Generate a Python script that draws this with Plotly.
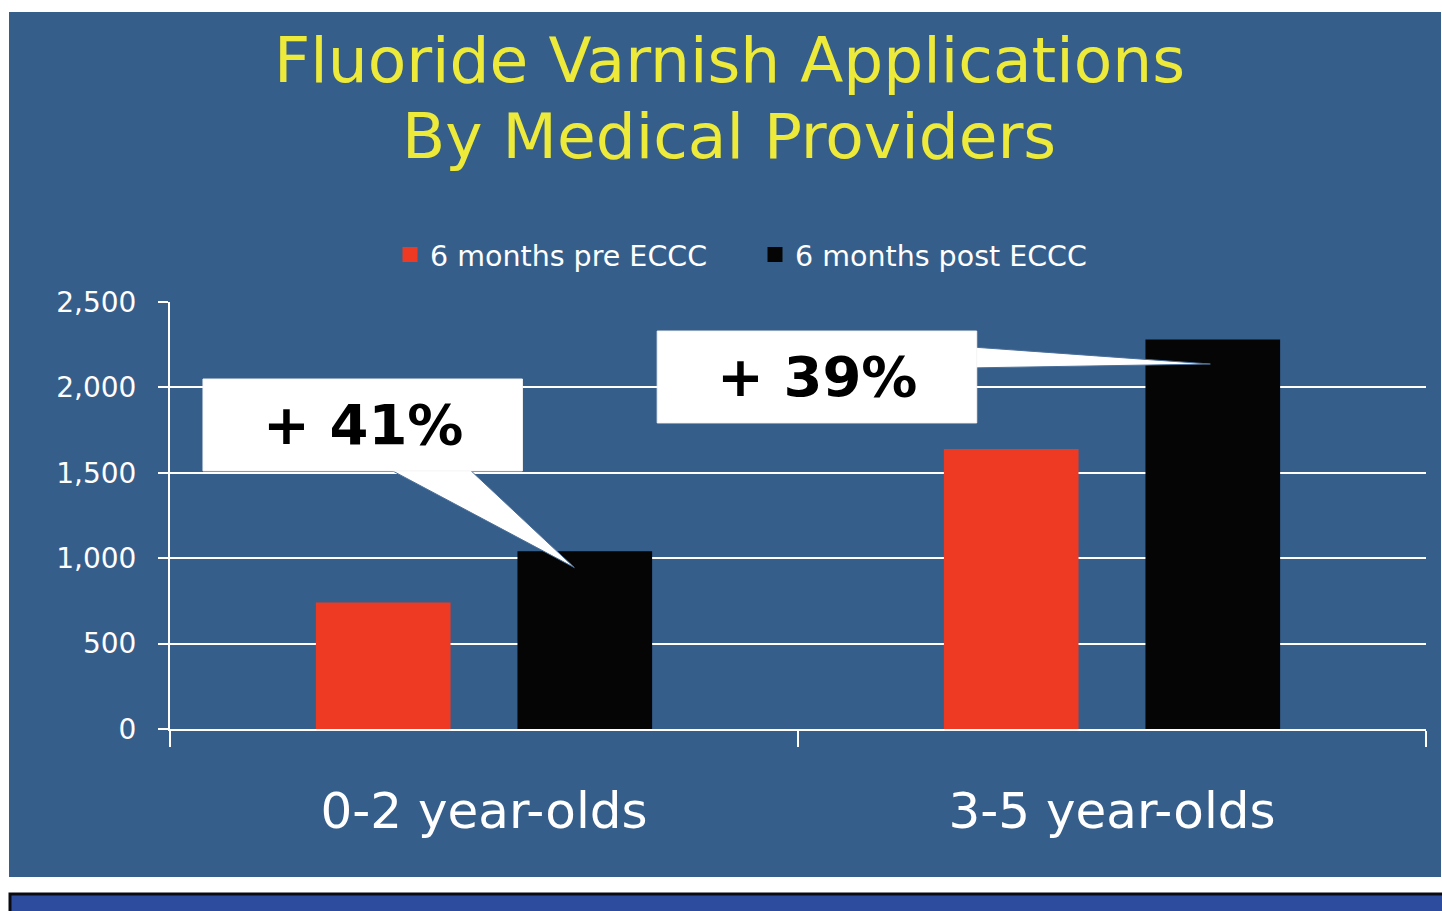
import plotly.graph_objects as go

categories = ["0-2 year-olds", "3-5 year-olds"]
pre_values = [740, 1640]
post_values = [1040, 2280]
series_names = ["6 months pre ECCC", "6 months post ECCC"]
callout_texts = ["+ 41%", "+ 39%"]
y_ticks = [0, 500, 1000, 1500, 2000, 2500]

BG = "#365e8b"
RED = "#ee3a22"
BLACK = "#050505"
YELLOW = "#eeea3a"
COLORS = [RED, BLACK]

fig = go.Figure()
for name, vals, col in zip(series_names, [pre_values, post_values], COLORS):
    fig.add_trace(go.Bar(x=categories, y=vals, name=name, showlegend=False,
                         marker=dict(color=col, line=dict(width=0))))
# legend entries with larger square swatches
for name, col in zip(series_names, COLORS):
    fig.add_trace(go.Scatter(x=[None], y=[None], mode="markers", name=name,
                             marker=dict(symbol="square", size=15, color=col,
                                         line=dict(width=0))))

W, H = 1442, 911
L, R, T, B = 170, 16, 302, 182
pw, ph = W - L - R, H - T - B

def px_x(p):
    return (p - L) / pw

def px_y(p):
    return (H - B - p) / ph

shapes = []
# slide background
shapes.append(dict(type="rect", xref="paper", yref="paper", layer="below",
                   x0=px_x(9), x1=px_x(1441), y0=px_y(12), y1=px_y(877),
                   fillcolor=BG, line=dict(width=0)))
# bottom band
shapes.append(dict(type="rect", xref="paper", yref="paper", layer="below",
                   x0=px_x(10), x1=px_x(1460), y0=px_y(894), y1=px_y(925),
                   fillcolor="#2e4c9e", line=dict(color="#0a0a14", width=3)))

# callouts (data coordinates: category index, value)
def callout_box(x0, x1, y0, y1):
    return dict(type="rect", xref="x", yref="y", layer="above",
                x0=x0, x1=x1, y0=y0, y1=y1,
                fillcolor="white", line=dict(color="#f4f4f4", width=1))

def pointer(pts):
    path = "M " + " L ".join(f"{x},{y}" for x, y in pts) + " Z"
    return dict(type="path", xref="x", yref="y", layer="above", path=path,
                fillcolor="white", line=dict(color="#4a6f99", width=1))

tip1 = (0.1439, post_values[0] - 95)
tip2 = (1.1566, post_values[1] - 143)
shapes.append(pointer([(-0.150, 1520), (-0.023, 1520), tip1]))
shapes.append(callout_box(-0.4475, 0.0612, 1511, 2049))
shapes.append(pointer([(0.775, 2237), (0.775, 2114), tip2]))
shapes.append(callout_box(0.2758, 0.7846, 1792, 2330))

annotations = [
    dict(text="Fluoride Varnish Applications", xref="paper", yref="paper",
         x=px_x(729), y=px_y(60), xanchor="center", yanchor="middle",
         showarrow=False,
         font=dict(family="DejaVu Sans", size=63, color=YELLOW)),
    dict(text="By Medical Providers", xref="paper", yref="paper",
         x=px_x(729), y=px_y(136), xanchor="center", yanchor="middle",
         showarrow=False,
         font=dict(family="DejaVu Sans", size=63, color=YELLOW)),
    dict(text=f"<b>{callout_texts[0]}</b>", xref="x", yref="y",
         x=(-0.4475 + 0.0612) / 2, y=(1511 + 2049) / 2, showarrow=False,
         xanchor="center", yanchor="middle",
         font=dict(family="DejaVu Sans", size=56, color="black")),
    dict(text=f"<b>{callout_texts[1]}</b>", xref="x", yref="y",
         x=(0.2758 + 0.7846) / 2, y=(1792 + 2330) / 2, showarrow=False,
         xanchor="center", yanchor="middle",
         font=dict(family="DejaVu Sans", size=56, color="black")),
]

fig.update_layout(
    width=W, height=H,
    margin=dict(l=L, r=R, t=T, b=B),
    paper_bgcolor="white", plot_bgcolor="rgba(0,0,0,0)",
    barmode="group", bargap=0.358, bargroupgap=0.332,
    showlegend=True,
    legend=dict(orientation="h", x=px_x(755), xanchor="center",
                y=px_y(255), yanchor="middle",
                font=dict(family="DejaVu Sans", size=28.5, color="white"),
                bgcolor="rgba(0,0,0,0)",
                tracegroupgap=0, entrywidth=320, entrywidthmode="pixels"),
    shapes=shapes, annotations=annotations,
    font=dict(family="DejaVu Sans", color="white"),
)
fig.update_xaxes(type="category", tickson="boundaries", ticks="outside",
                 ticklen=16, tickwidth=2, tickcolor="white",
                 showline=True, linecolor="white", linewidth=2,
                 showgrid=False, range=[-0.5, 1.5], ticklabelstandoff=37,
                 tickfont=dict(family="DejaVu Sans", size=50, color="white"))
fig.update_yaxes(range=[0, 2500], tickvals=y_ticks, tickformat=",",
                 ticks="outside", ticklen=10, tickwidth=2, tickcolor="white",
                 showline=True, linecolor="white", linewidth=2,
                 showgrid=True, gridcolor="white", gridwidth=2,
                 zeroline=False, ticklabelstandoff=16,
                 tickfont=dict(family="DejaVu Sans", size=28, color="white"))

fig.write_html(
    "out.html",
    config={"displayModeBar": False},
    post_script="document.body.style.margin='0';"
                "document.body.style.overflow='hidden';",
)
